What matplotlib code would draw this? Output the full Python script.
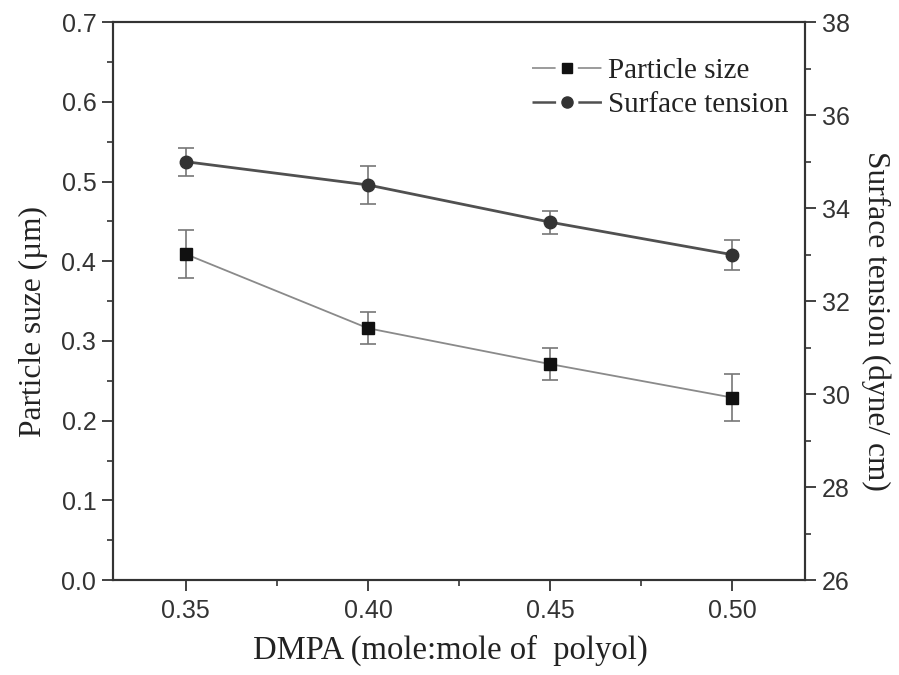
import matplotlib
matplotlib.use('Agg')
import matplotlib.pyplot as plt
from matplotlib.lines import Line2D
from matplotlib.ticker import MultipleLocator, FormatStrFormatter

plt.rcParams['lines.scale_dashes'] = False

# --- data ---------------------------------------------
dmpa = [0.35, 0.40, 0.45, 0.50]
particle_size = [0.409, 0.316, 0.271, 0.229]
particle_err = [0.030, 0.020, 0.020, 0.030]
surface_tension = [35.0, 34.5, 33.7, 33.0]
tension_err = [0.30, 0.40, 0.25, 0.32]
labels = ['Particle size', 'Surface tension']

SERIF = ['Liberation Serif', 'DejaVu Serif']
SANS = ['Liberation Sans', 'DejaVu Sans']
axis_col = '#333333'
ps_line, st_line = '#8a8a8a', '#505050'

fig = plt.figure(figsize=(8.99, 6.75), dpi=100)
ax = fig.add_axes([0.1257, 0.1407, 0.7698, 0.8263])
ax2 = ax.twinx()

# particle size (left axis)
ax.errorbar(dmpa, particle_size, yerr=particle_err, color=ps_line, lw=1.3,
            marker='s', ms=8, mfc='#111111', mec='#111111',
            ecolor='#777777', elinewidth=1.2, capsize=6, capthick=1.2, zorder=3)
# surface tension (right axis)
ax2.errorbar(dmpa, surface_tension, yerr=tension_err, color=st_line, lw=2.0,
             marker='o', ms=9, mfc='#333333', mec='#333333',
             ecolor='#777777', elinewidth=1.2, capsize=6, capthick=1.2, zorder=3)

ax.set_xlim(0.33, 0.52)
ax.set_ylim(0.0, 0.7)
ax2.set_ylim(26, 38)

ax.xaxis.set_major_locator(MultipleLocator(0.05))
ax.xaxis.set_minor_locator(MultipleLocator(0.025))
ax.xaxis.set_major_formatter(FormatStrFormatter('%.2f'))
ax.yaxis.set_major_locator(MultipleLocator(0.1))
ax.yaxis.set_minor_locator(MultipleLocator(0.05))
ax.yaxis.set_major_formatter(FormatStrFormatter('%.1f'))
ax2.yaxis.set_major_locator(MultipleLocator(2))
ax2.yaxis.set_minor_locator(MultipleLocator(1))

for a in (ax, ax2):
    for s in a.spines.values():
        s.set_color(axis_col)
        s.set_linewidth(1.5)
    a.tick_params(which='major', length=8, width=1.3, color=axis_col,
                  labelsize=18, labelcolor='#333333', pad=4)
    a.tick_params(which='minor', length=4, width=1.2, color=axis_col)
ax.tick_params(axis='x', which='both', top=False)
ax.tick_params(axis='x', which='major', pad=6)
for lab in ax.get_xticklabels() + ax.get_yticklabels() + ax2.get_yticklabels():
    lab.set_family(SANS)

ax.set_xlabel('DMPA (mole:mole of  polyol)', family=SERIF, fontsize=23.5,
              color='#222222', labelpad=8)
ax.set_ylabel('Particle suze (µm)', family=SERIF, fontsize=22.6,
              color='#222222', labelpad=10)
ax2.set_ylabel('Surface tension (dyne/ cm)', family=SERIF, fontsize=22.6,
               color='#222222', rotation=270, va='bottom', labelpad=8)
ax.xaxis.label.set_x(0.488)
ax.yaxis.label.set_y(0.464)
ax2.yaxis.label.set_y(0.464)

# legend: line - marker - line with gaps
seg = (17, 16, 17, 60)
leg_handles = [
    (Line2D([], [], color=ps_line, lw=1.2, dashes=seg),
     Line2D([], [], ls='none', marker='s', ms=7, mfc='#111111', mec='#111111')),
    (Line2D([], [], color=st_line, lw=1.8, dashes=seg),
     Line2D([], [], ls='none', marker='o', ms=8, mfc='#333333', mec='#333333')),
]
leg = ax2.legend(leg_handles, labels,
                 loc='upper right', bbox_to_anchor=(0.997, 0.962), frameon=False,
                 prop={'family': SERIF, 'size': 21},
                 handlelength=2.4, handletextpad=0.2, borderaxespad=0.1,
                 labelspacing=0.25)
for t in leg.get_texts():
    t.set_color('#222222')

fig.savefig('out.png', dpi=100)
